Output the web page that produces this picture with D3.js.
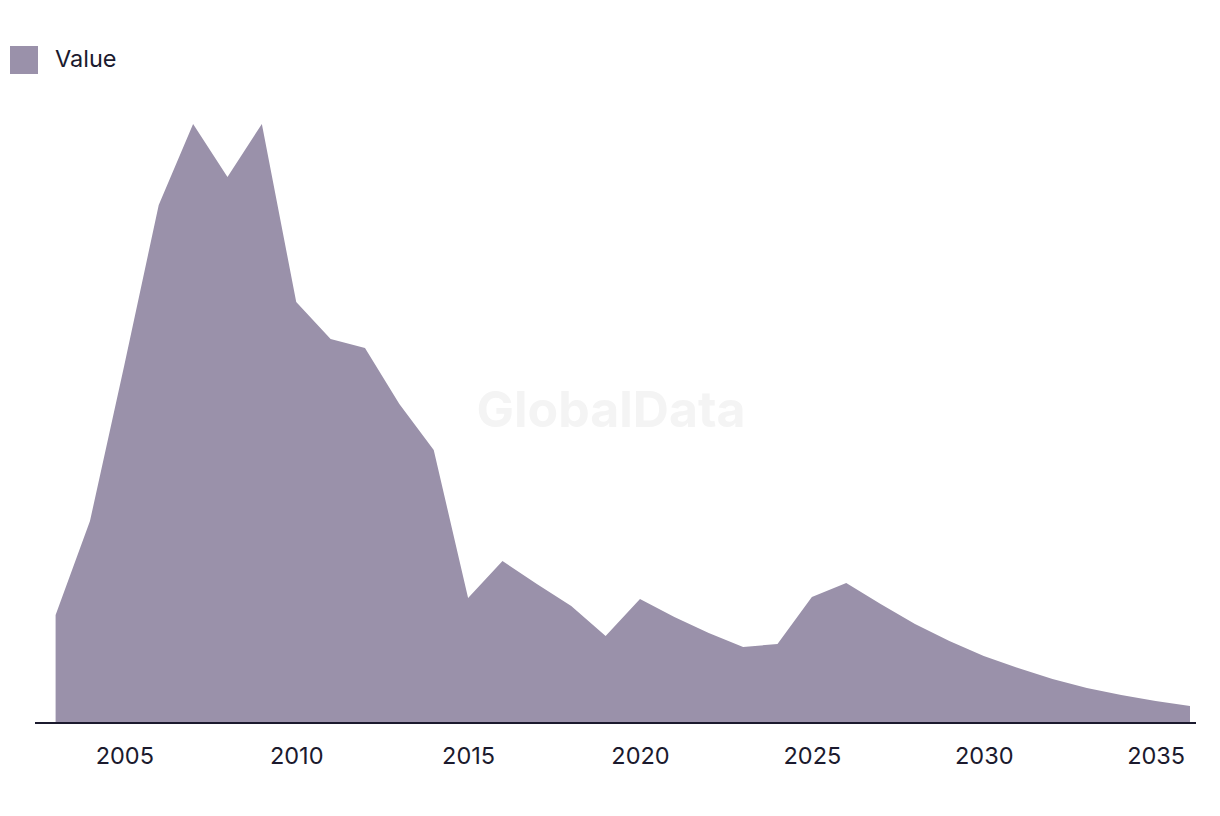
<!DOCTYPE html>
<html><head><meta charset="utf-8">
<script src="https://cdn.jsdelivr.net/npm/d3@7"></script>
<style>
body{margin:0;background:#fff;}
svg{display:block;font-family:Inter,"Noto Sans",sans-serif;}
</style></head><body>
<svg id="chart" width="1220" height="816"></svg>
<script>
const years = [2003,2004,2005,2006,2007,2008,2009,2010,2011,2012,2013,2014,2015,2016,2017,2018,2019,2020,2021,2022,2023,2024,2025,2026,2027,2028,2029,2030,2031,2032,2033,2034,2035,2036];
const values = [108,202,358,518,599,546,599,421,384,375,319,273,125,162,139,117,87,124,106,90,76,79,126,140,119,99,82,67,55,44,35,28,22,17];
const tickYears = [2005,2010,2015,2020,2025,2030,2035];
const seriesName = "Value";

const svg = d3.select("#chart");
const areaColor = "#9a91aa", textColor = "#1b1a2e";
const baseY = 723;

const x = d3.scaleLinear().domain([2003, 2036]).range([55.6, 1190]);
const y = d3.scaleLinear().domain([0, 600]).range([baseY, 123]);

// watermark
svg.append("text").attr("x", 611).attr("y", 427).attr("text-anchor", "middle")
  .attr("font-size", 50).attr("font-weight", 700).attr("fill", "#f4f4f4")
  .attr("font-family", "Inter, 'Noto Sans', sans-serif").text("GlobalData");

const data = years.map((yr, i) => ({yr, v: values[i]}));
svg.append("path").datum(data)
  .attr("fill", areaColor)
  .attr("d", d3.area().x(d => x(d.yr)).y0(y(0)).y1(d => y(d.v)));

// baseline
svg.append("line").attr("x1", 35).attr("x2", 1196).attr("y1", baseY).attr("y2", baseY)
  .attr("stroke", textColor).attr("stroke-width", 2);

const ax = svg.append("g").attr("transform", `translate(0,${baseY})`)
  .call(d3.axisBottom(x).tickValues(tickYears).tickFormat(d3.format("d")).tickSize(0).tickPadding(24));
ax.select(".domain").remove();
ax.selectAll("text").attr("font-size", 23.5).attr("fill", textColor)
  .attr("font-family", "Inter, 'Noto Sans', sans-serif");

// legend
svg.append("rect").attr("x", 10).attr("y", 46).attr("width", 28).attr("height", 28).attr("fill", areaColor);
svg.append("text").attr("x", 55).attr("y", 67).attr("font-size", 23.5).attr("fill", textColor).text(seriesName);
</script>
</body></html>
